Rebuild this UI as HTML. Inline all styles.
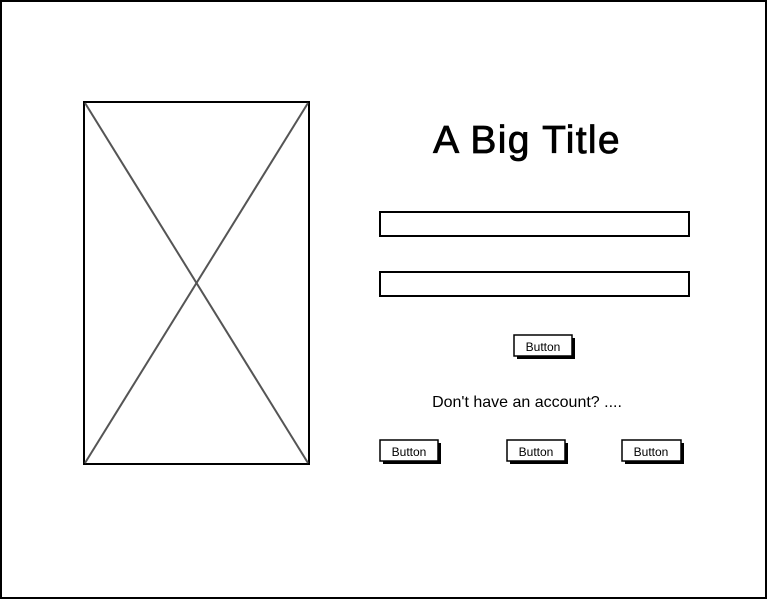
<!DOCTYPE html>
<html><head><meta charset="utf-8"><style>
html,body{margin:0;padding:0;background:#fff;}
svg{display:block;}
text{font-family:"Liberation Sans",sans-serif;fill:#000;}
</style></head><body>
<svg width="768" height="600" viewBox="0 0 768 600">
<rect x="1" y="1" width="765" height="597" fill="#fff" stroke="#000" stroke-width="2"/>
<g>
<rect x="84" y="102" width="225" height="362" fill="#fff" stroke="#000" stroke-width="2"/>
<line x1="85" y1="103" x2="308" y2="463" stroke="#555" stroke-width="2"/>
<line x1="308" y1="103" x2="85" y2="463" stroke="#555" stroke-width="2"/>
</g>
<text x="527" y="153" font-size="39" text-anchor="middle" letter-spacing="1.3" stroke="#000" stroke-width="0.8">A Big Title</text>
<rect x="380" y="212" width="309" height="24" fill="#fff" stroke="#000" stroke-width="2"/>
<rect x="380" y="272" width="309" height="24" fill="#fff" stroke="#000" stroke-width="2"/>
<g>
<rect x="517" y="338" width="58" height="21" fill="#000"/>
<rect x="514" y="335" width="58" height="21" fill="#fff" stroke="#000" stroke-width="1.5"/>
<text x="543" y="351" font-size="12" text-anchor="middle">Button</text>
</g>
<text x="527" y="407" font-size="16" text-anchor="middle">Don't have an account? ....</text>
<g>
<rect x="383" y="443" width="58" height="21" fill="#000"/>
<rect x="380" y="440" width="58" height="21" fill="#fff" stroke="#000" stroke-width="1.5"/>
<text x="409" y="456" font-size="12" text-anchor="middle">Button</text>
</g>
<g>
<rect x="510" y="443" width="58" height="21" fill="#000"/>
<rect x="507" y="440" width="58" height="21" fill="#fff" stroke="#000" stroke-width="1.5"/>
<text x="536" y="456" font-size="12" text-anchor="middle">Button</text>
</g>
<g>
<rect x="625" y="443" width="59" height="21" fill="#000"/>
<rect x="622" y="440" width="59" height="21" fill="#fff" stroke="#000" stroke-width="1.5"/>
<text x="651" y="456" font-size="12" text-anchor="middle">Button</text>
</g>
</svg>
</body></html>
